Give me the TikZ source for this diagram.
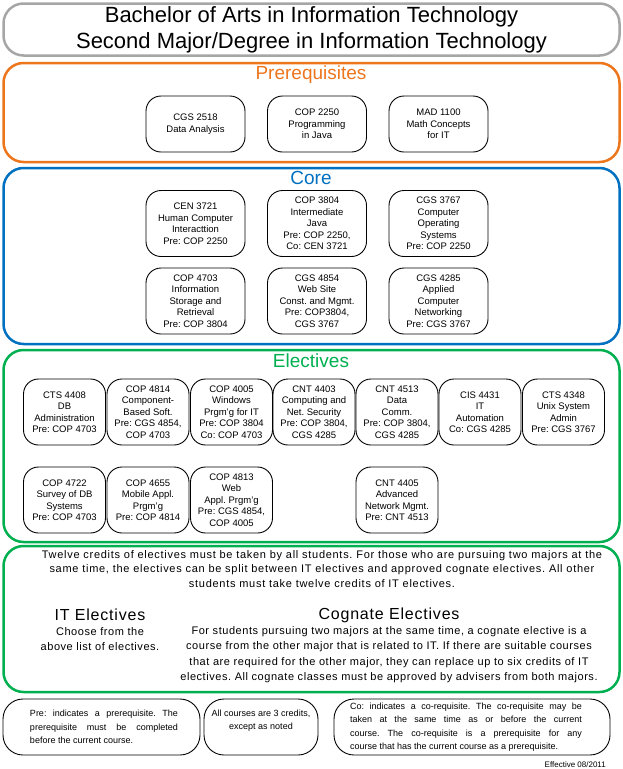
\documentclass[tikz,border=0pt]{standalone}
\usepackage{fontspec}
\setmainfont{Liberation Sans}
\newfontfamily\widefont[LetterSpace=5]{Liberation Sans}
\newfontfamily\widerfont[LetterSpace=6.5]{Liberation Sans}
\definecolor{frgray}{RGB}{166,166,166}
\definecolor{frorange}{RGB}{237,118,28}
\definecolor{frblue}{RGB}{0,112,192}
\definecolor{frgreen}{RGB}{0,176,80}
\frenchspacing
\begin{document}
\begin{tikzpicture}[x=1pt,y=-1pt,
 frame/.style={draw=#1, line width=2.5pt, rounded corners=20pt, minimum width=616pt, inner sep=0pt},
 course/.style={draw, line width=0.9pt, rounded corners=15pt, align=center, inner sep=0pt, font=\fontsize{9.5}{11.5}\selectfont},
 pbox/.style={course, minimum width=99pt, minimum height=56pt},
 cbox/.style={course, minimum width=99pt, minimum height=66pt},
 ebox/.style={course, minimum width=82pt, minimum height=66pt},
 note/.style={draw, line width=0.9pt, rounded corners=20pt, minimum height=56pt, inner sep=0pt},
 head/.style={font=\fontsize{19}{22}\selectfont},
 sub/.style={font=\widefont\fontsize{16}{18}\selectfont},
 body/.style={font=\widefont\fontsize{11}{15.5}\selectfont, align=center, inner sep=0pt},
 small/.style={font=\fontsize{9}{13.5}\selectfont, inner sep=0pt}
]
\useasboundingbox (0,0) rectangle (623,769);

% frames
\node[frame=frgray, minimum height=52pt, align=center, font=\fontsize{22}{26}\selectfont] (title) at (311.5,29.5)
  {Bachelor of Arts in Information Technology\\Second Major/Degree in Information Technology};
\node[frame=frorange, minimum height=99pt] (pre) at (311.5,112.5) {};
\node[frame=frblue, minimum height=176pt] (core) at (311.5,256) {};
\node[frame=frgreen, minimum height=192pt] (elec) at (311.5,446) {};
\node[frame=frgreen, minimum height=146pt] (info) at (311.5,619) {};

% headings
\node[head, text=frorange] (prelabel) at (311,75) {Prerequisites};
\node[head, text=frblue] (corelabel) at (311,178) {Core};
\node[head, text=frgreen] (eleclabel) at (311,361) {Electives};

% prerequisites
\node[pbox] (cgs2518) at (195.5,124) {CGS 2518\\Data Analysis};
\node[pbox] (cop2250) at (317,124) {COP 2250\\Programming\\in Java};
\node[pbox] (mad1100) at (438.5,124) {MAD 1100\\Math Concepts\\for IT};

% core
\node[cbox] (cen3721) at (195.5,223.5) {CEN 3721\\Human Computer\\Interacttion\\Pre: COP 2250};
\node[cbox] (cop3804) at (317,223.5) {COP 3804\\Intermediate\\Java\\Pre: COP 2250,\\Co: CEN 3721};
\node[cbox] (cgs3767) at (438.5,223.5) {CGS 3767\\Computer\\Operating\\Systems\\Pre: COP 2250};
\node[cbox] (cop4703) at (195.5,301) {COP 4703\\Information\\Storage and\\Retrieval\\Pre: COP 3804};
\node[cbox] (cgs4854) at (317,301) {CGS 4854\\Web Site\\Const. and Mgmt.\\Pre: COP3804,\\CGS 3767};
\node[cbox] (cgs4285) at (438.5,301) {CGS 4285\\Applied\\Computer\\Networking\\Pre: CGS 3767};

% electives row 1
\node[ebox] (cts4408) at (64.5,412) {CTS 4408\\DB\\Administration\\Pre: COP 4703};
\node[ebox] (cop4814) at (148,412) {COP 4814\\Component-\\Based Soft.\\Pre: CGS 4854,\\COP 4703};
\node[ebox] (cop4005) at (231.5,412) {COP 4005\\Windows\\Prgm'g for IT\\Pre: COP 3804\\Co: COP 4703};
\node[ebox] (cnt4403) at (314,412) {CNT 4403\\Computing and\\Net. Security\\Pre: COP 3804,\\CGS 4285};
\node[ebox] (cnt4513) at (397,412) {CNT 4513\\Data\\Comm.\\Pre: COP 3804,\\CGS 4285};
\node[ebox] (cis4431) at (480,412) {CIS 4431\\IT\\Automation\\Co: CGS 4285};
\node[ebox] (cts4348) at (563.5,412) {CTS 4348\\Unix System\\Admin\\Pre: CGS 3767};
% electives row 2
\node[ebox] (cop4722) at (64.5,500) {COP 4722\\Survey of DB\\Systems\\Pre: COP 4703};
\node[ebox] (cop4655) at (148,500) {COP 4655\\Mobile Appl.\\Prgm'g\\Pre: COP 4814};
\node[ebox] (cop4813) at (231.5,500) {COP 4813\\Web\\Appl. Prgm'g\\Pre: CGS 4854,\\COP 4005};
\node[ebox] (cnt4405) at (397,500) {CNT 4405\\Advanced\\Network Mgmt.\\Pre: CNT 4513};

% info text
\node[body, font=\widerfont\fontsize{11}{14.3}\selectfont] (para) at (322,569) {Twelve credits of electives must be taken by all students. For those who are pursuing two majors at the\\
same time, the electives can be split between IT electives and approved cognate electives. All other\\
students must take twelve credits of IT electives.};
\node[sub] (itelec) at (100,615) {IT Electives};
\node[sub] (cogelec) at (389,615) {Cognate Electives};
\node[body] (itdesc) at (100,639) {Choose from the\\above list of electives.};
\node[body] (cogdesc) at (389,654.5) {For students pursuing two majors at the same time, a cognate elective is a\\
course from the other major that is related to IT. If there are suitable courses\\
that are required for the other major, they can replace up to six credits of IT\\
electives. All cognate classes must be approved by advisers from both majors.};

% notes
\node[note, minimum width=197pt] (n1) at (101.5,727) {};
\node[note, minimum width=114pt] (n2) at (261,727) {};
\node[note, minimum width=276pt] (n3) at (472,727) {};
\node[small, text width=148pt, align=justify] (n1t) at (104,727) {Pre: indicates a prerequisite. The\linebreak prerequisite must be completed\linebreak before the current course.};
\node[small, align=center] (n2t) at (261,720.5) {All courses are 3 credits,\\except as noted};
\node[small, text width=232pt, align=justify] (n3t) at (466,727) {Co: indicates a co-requisite. The co-requisite may be\linebreak taken at the same time as or before the current\linebreak course. The co-requisite is a prerequisite for any\linebreak course that has the current course as a prerequisite.};
\node[font=\fontsize{8}{10}\selectfont, anchor=east, inner sep=0pt] (eff) at (606,765) {Effective 08/2011};
\end{tikzpicture}
\end{document}
